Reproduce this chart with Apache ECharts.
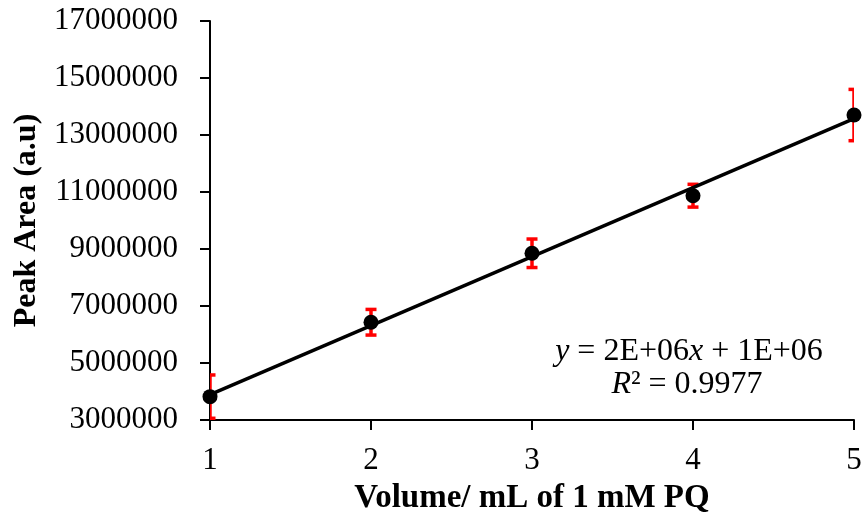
<!DOCTYPE html>
<html>
<head>
<meta charset="utf-8">
<script src="https://cdn.jsdelivr.net/npm/echarts@6/dist/echarts.min.js"></script>
<style>
html,body{margin:0;padding:0;background:#fff;}
#chart{width:865px;height:527px;}
</style>
</head>
<body>
<div id="chart"></div>
<script>
// Data
var volumes = [1, 2, 3, 4, 5];
var peakAreas = [3820000, 6430000, 8850000, 10870000, 13700000];
var errors = [760000, 450000, 500000, 400000, 900000];

var FONT = 'Liberation Serif';

// least-squares trendline from the data
var n = volumes.length, sx = 0, sy = 0, sxx = 0, sxy = 0;
for (var i = 0; i < n; i++) { sx += volumes[i]; sy += peakAreas[i]; sxx += volumes[i]*volumes[i]; sxy += volumes[i]*peakAreas[i]; }
var slope = (n*sxy - sx*sy) / (n*sxx - sx*sx);
var intercept = (sy - slope*sx) / n;
var xMin = volumes[0], xMax = volumes[n-1];
var trend = [[xMin, intercept + slope*xMin], [xMax, intercept + slope*xMax]];

var points = volumes.map(function (v, i) { return [v, peakAreas[i]]; });
var errData = volumes.map(function (v, i) { return [v, peakAreas[i] - errors[i], peakAreas[i] + errors[i]]; });

var rich = {
  i: { fontFamily: FONT, fontStyle: 'italic', fontSize: 32, fill: '#000' },
  n: { fontFamily: FONT, fontSize: 32, fill: '#000' }
};

var chart = echarts.init(document.getElementById('chart'));
chart.setOption({
  animation: false,
  backgroundColor: '#fff',
  grid: { left: 210, right: 11, top: 21, bottom: 107, containLabel: false },
  xAxis: {
    type: 'value', min: 1, max: 5, interval: 1,
    name: 'Volume/ mL of 1 mM PQ', nameLocation: 'middle', nameGap: 62,
    nameTextStyle: { fontFamily: FONT, fontWeight: 'bold', fontSize: 33, color: '#000' },
    axisLine: { show: true, onZero: false, lineStyle: { color: '#000', width: 2 } },
    axisTick: { show: true, length: 10, inside: false, lineStyle: { color: '#000', width: 2 } },
    axisLabel: { fontFamily: FONT, fontSize: 31, color: '#000', margin: 25 },
    splitLine: { show: false }
  },
  yAxis: {
    type: 'value', min: 3000000, max: 17000000, interval: 2000000,
    name: 'Peak Area (a.u)', nameLocation: 'middle', nameGap: 164,
    nameTextStyle: { fontFamily: FONT, fontWeight: 'bold', fontSize: 32, color: '#000' },
    axisLine: { show: true, onZero: false, lineStyle: { color: '#000', width: 2 } },
    axisTick: { show: true, length: 10, inside: false, lineStyle: { color: '#000', width: 2 } },
    axisLabel: { fontFamily: FONT, fontSize: 31, color: '#000', margin: 32, formatter: function (v) { return String(v); } },
    splitLine: { show: false }
  },
  series: [
    {
      type: 'custom',
      name: 'error',
      clip: true,
      data: errData,
      z: 2,
      renderItem: function (params, api) {
        var x = api.value(0);
        var lo = api.coord([x, api.value(1)]);
        var hi = api.coord([x, api.value(2)]);
        var hw = 5.5;
        var style = { stroke: '#ff0000', lineWidth: 3.5, fill: null };
        return {
          type: 'group',
          children: [
            { type: 'line', shape: { x1: lo[0], y1: lo[1], x2: hi[0], y2: hi[1] }, style: style },
            { type: 'line', shape: { x1: lo[0]-hw, y1: lo[1], x2: lo[0]+hw, y2: lo[1] }, style: style },
            { type: 'line', shape: { x1: hi[0]-hw, y1: hi[1], x2: hi[0]+hw, y2: hi[1] }, style: style }
          ]
        };
      }
    },
    {
      type: 'line', name: 'trend', data: trend, symbol: 'none', z: 3,
      lineStyle: { color: '#000', width: 3.5 }, silent: true
    },
    {
      type: 'scatter', name: 'data', data: points, symbol: 'circle', symbolSize: 15, z: 4,
      itemStyle: { color: '#000', opacity: 1 }
    }
  ],
  graphic: [
    {
      type: 'text', x: 689, y: 336, z: 10,
      style: { rich: rich, align: 'center', text: '{i|y}{n| = 2E+06}{i|x}{n| + 1E+06}' }
    },
    {
      type: 'text', x: 687, y: 369, z: 10,
      style: { rich: rich, align: 'center', text: '{i|R}{n|² = 0.9977}' }
    }
  ]
});
</script>
</body>
</html>
